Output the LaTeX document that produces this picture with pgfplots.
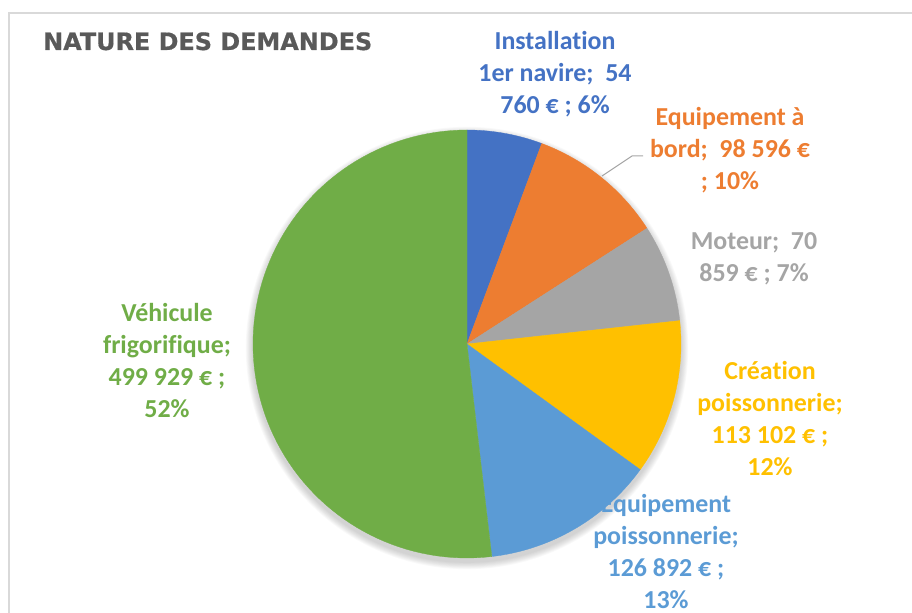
\documentclass[border=0pt]{standalone}
\usepackage{pgfplots}
\pgfplotsset{compat=1.18}
\usepackage{fontspec}
\setmainfont{Carlito}[Ligatures=NoCommon]
\newfontfamily\titlefont{DejaVu Sans}[BoldFeatures={FakeBold=0.6}]
\definecolor{cInst}{HTML}{4472C4}
\definecolor{cEqb}{HTML}{ED7D31}
\definecolor{cMot}{HTML}{A5A5A5}
\definecolor{cCre}{HTML}{FFC000}
\definecolor{cEqp}{HTML}{5B9BD5}
\definecolor{cVeh}{HTML}{70AD47}
\definecolor{cTitle}{HTML}{595959}
\definecolor{cFrame}{HTML}{D9D9D9}
\definecolor{cLead}{HTML}{A6A6A6}
\tikzset{lab/.style={inner sep=0pt, align=center, anchor=north, font=\bfseries\fontsize{26}{32}\selectfont}}
\def\total{964138}
\def\cx{467}
\def\cy{269}
\def\rr{214}
% #1 = cumulative start value, #2 = slice value, #3 = colour
\newcommand\pieslice[3]{%
  \edef\tmp{\noexpand\addplot[draw=#3, line width=0.3pt, fill=#3,
    domain=\fpeval{90-360*(#1+#2)/\total}:\fpeval{90-360*#1/\total}, samples=90]
    ({\cx+\rr*cos(x)},{\cy+\rr*sin(x)}) -- (axis cs:\cx,\cy) -- cycle;}\tmp}
\begin{document}
\begin{tikzpicture}
\useasboundingbox (0,0) rectangle (912bp,613bp);
\begin{axis}[at={(0,0)}, anchor=south west, x=1bp, y=1bp,
  xmin=0, xmax=912, ymin=0, ymax=613, hide axis, clip=false]
\draw[cFrame, line width=2bp] (axis cs:9,-5) -- (axis cs:9,600) -- (axis cs:920,600);
% soft shadow under the pie
\pgfplotsinvokeforeach{1,...,8}{
  \fill[black, opacity=0.025] (axis cs:467,265) circle[radius={(214+#1*0.9)*1bp}];
}
\pieslice{0}{54760}{cInst}
\pieslice{54760}{98596}{cEqb}
\pieslice{153356}{70859}{cMot}
\pieslice{224215}{113102}{cCre}
\pieslice{337317}{126892}{cEqp}
\pieslice{464209}{499929}{cVeh}
\draw[cLead, line width=1bp] (axis cs:602,437) -- (axis cs:632,457) -- (axis cs:643,457);
\node[anchor=base west, inner sep=0pt, text=cTitle, font=\titlefont\bfseries\fontsize{24}{29}\selectfont] at (axis cs:43,563) {NATURE DES DEMANDES};
\node[lab, text=cInst] at (axis cs:555,582) {Installation\\1er navire;~~54\\760 € ; 6\%};
\node[lab, text=cEqb] at (axis cs:730,506) {Equipement à\\bord;~~98 596 €\\; 10\%};
\node[lab, text=cMot] at (axis cs:754,381) {Moteur;~~70\\859 € ; 7\%};
\node[lab, text=cCre] at (axis cs:770,252) {Création\\poissonnerie;\\113 102 € ;\\12\%};
\node[lab, text=cEqp] at (axis cs:666,119) {Equipement\\poissonnerie;\\126 892 € ;\\13\%};
\node[lab, text=cVeh] at (axis cs:167,310) {Véhicule\\frigorifique;\\499 929 € ;\\52\%};
\end{axis}
\end{tikzpicture}
\end{document}
